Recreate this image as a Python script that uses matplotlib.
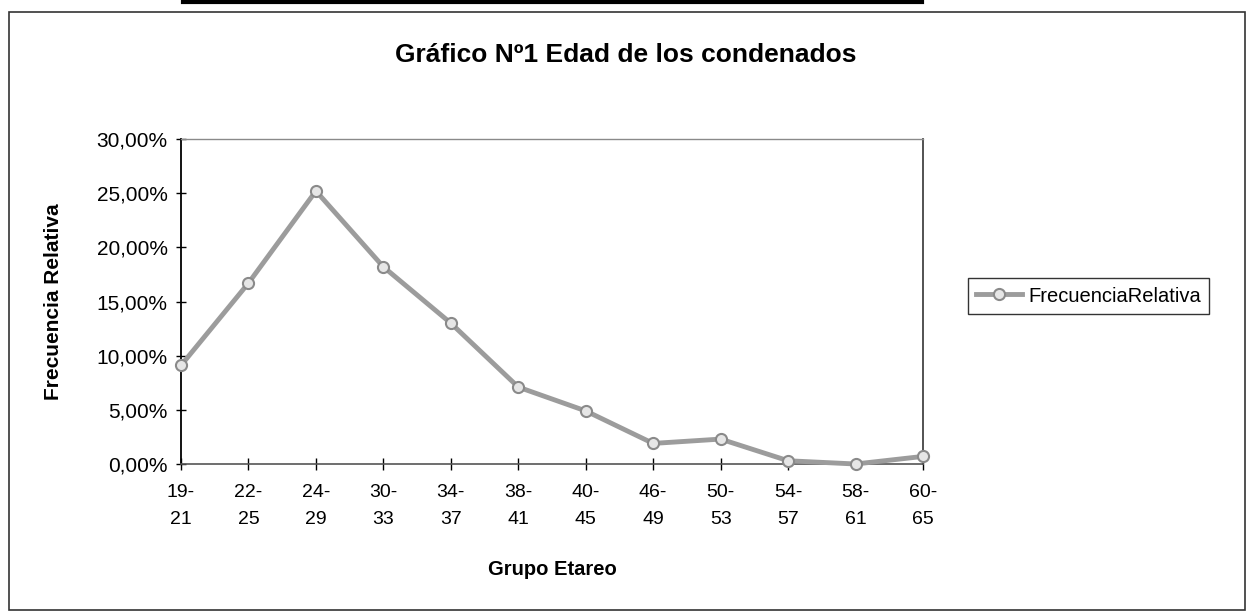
import matplotlib
matplotlib.use("Agg")
import matplotlib.pyplot as plt
from matplotlib.patches import Rectangle
from matplotlib.lines import Line2D
from matplotlib.ticker import FuncFormatter, MultipleLocator
import numpy as np

plt.rcParams['font.family'] = ['Liberation Sans', 'DejaVu Sans']

# age groups and relative frequency (%)
grupos = ["19-\n21", "22-\n25", "24-\n29", "30-\n33", "34-\n37", "38-\n41",
          "40-\n45", "46-\n49", "50-\n53", "54-\n57", "58-\n61", "60-\n65"]
frecuencia = [9.1, 16.7, 25.2, 18.2, 13.0, 7.1, 4.9, 1.9, 2.3, 0.3, 0.0, 0.7]

W, H = 1251, 615
fig = plt.figure(figsize=(W / 100, H / 100), dpi=100)
fig.patch.set_facecolor("white")

# plot area placed in pixels of the reference
left, right, top, bottom = 181, 923, 139, 464
ax = fig.add_axes([left / W, 1 - bottom / H, (right - left) / W, (bottom - top) / H])

x = np.arange(len(grupos))
ax.plot(x, frecuencia, color="#9c9c9c", linewidth=3.5, marker="o", markersize=8,
        markerfacecolor="#e6e6e6", markeredgecolor="#8a8a8a", markeredgewidth=1.5,
        label="FrecuenciaRelativa", zorder=3, clip_on=False)

ax.set_xlim(0, len(grupos) - 1)
ax.set_ylim(0, 30)
ax.set_xticks(x)
ax.set_xticklabels(grupos, fontsize=14, linespacing=1.75)
ax.yaxis.set_major_locator(MultipleLocator(5))
ax.yaxis.set_major_formatter(FuncFormatter(lambda v, p: f"{v:.2f}".replace(".", ",") + "%"))
ax.tick_params(axis="y", labelsize=15, direction="inout", length=7, width=1, pad=6)
ax.tick_params(axis="x", direction="inout", length=9, width=1, pad=10)

# borders of the plot area
ax.spines["left"].set_color("black")
ax.spines["left"].set_linewidth(1.3)
ax.spines["bottom"].set_color("#555555")
ax.spines["bottom"].set_linewidth(1.2)
ax.spines["top"].set_color("#8a8a8a")
ax.spines["top"].set_linewidth(1.0)
ax.spines["top"].set_linestyle((0, (5, 1)))
ax.spines["right"].set_color("#444444")
ax.spines["right"].set_linewidth(1.3)

ax.set_ylabel("Frecuencia Relativa", fontsize=15, fontweight="bold")
ax.yaxis.set_label_coords(-0.159, 0.5)
ax.set_xlabel("Grupo Etareo", fontsize=14.5, fontweight="bold")
ax.xaxis.set_label_coords(0.5, -0.295)

fig.text(0.5, 1 - 55 / H, "Gráfico Nº1 Edad de los condenados", ha="center", va="center",
         fontsize=19, fontweight="bold")

leg = fig.legend(loc="center left", bbox_to_anchor=(968 / W, 1 - 296 / H), fontsize=14.5,
                 fancybox=False, edgecolor="black", handlelength=2.3, handletextpad=0.3,
                 borderpad=0.4, borderaxespad=0)
leg.get_frame().set_linewidth(1.0)

# outer chart frame
fig.patches.append(Rectangle((9 / W, 5 / H), (1245 - 9) / W, (610 - 12) / H,
                             transform=fig.transFigure, fill=False, edgecolor="#333333",
                             linewidth=1.2))
# scanned underline at the very top
fig.lines.append(Line2D([183 / W, 922 / W], [1 - 1.5 / H, 1 - 1.5 / H],
                        transform=fig.transFigure, color="black", linewidth=3))

fig.savefig("out.png", dpi=100)
